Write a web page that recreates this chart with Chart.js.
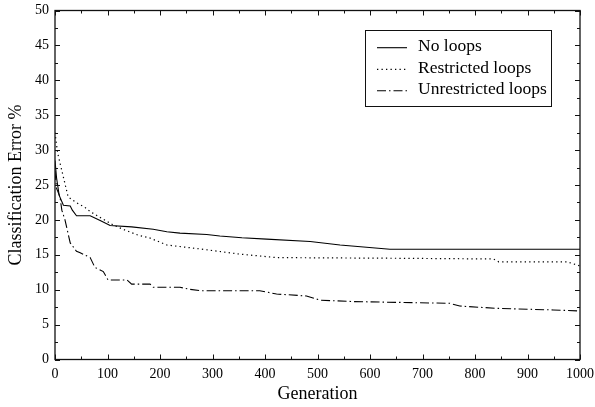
<!DOCTYPE html>
<html>
<head>
<meta charset="utf-8">
<script src="https://cdn.jsdelivr.net/npm/chart.js@4.4.1/dist/chart.umd.min.js"></script>
<style>
html,body{margin:0;padding:0;background:#fff;}
canvas{display:block;}
</style>
</head>
<body>
<canvas id="c" width="595" height="407"></canvas>
<script>
// ---- data ----
const noLoopsGen = [0,3,8,16,29,33,41,67,86,105,146,187,213,238,289,314,356,403,486,543,638,1000];
const noLoopsErr = [28.5,26,23.5,22.1,22.0,21.4,20.6,20.6,19.9,19.2,19.0,18.65,18.3,18.1,17.9,17.7,17.45,17.25,16.9,16.4,15.8,15.8];

const restrictedGen = [0,5,10,18,25,40,57,67,85,110,133,159,181,213,270,352,422,657,835,845,975,1000];
const restrictedErr = [32.5,29.6,28.0,25.5,23.3,22.5,21.8,21.2,20.4,19.3,18.55,17.8,17.4,16.4,15.9,15.1,14.6,14.5,14.4,14.0,14.0,13.4];

const unrestrictedGen = [0,3,9.5,13,19,29,41,48,67,76,92,101,137,146,181,187,238,257,276,390,422,479,505,568,752,771,841,949,1000];
const unrestrictedErr = [27,24.5,23.3,21.4,20.0,16.7,15.5,15.3,14.6,13.2,12.6,11.4,11.4,10.8,10.8,10.35,10.35,10.05,9.86,9.86,9.38,9.1,8.5,8.3,8.05,7.66,7.33,7.1,6.95];

const seriesLabels = ["No loops","Restricted loops","Unrestricted loops"];
const xRange = [0,1000], xMajor = 100, xMinor = 50;
const yRange = [0,50], yMajor = 5, yMinor = 2.5;
const xTitle = "Generation";
const yTitle = "Classification Error %";

const FONT = "'Liberation Serif', 'Times New Roman', serif";
const toPts = (g, v) => g.map((x, i) => ({x: x, y: v[i]}));

const frameAndLegend = {
  id: 'frameAndLegend',
  afterDatasetsDraw(chart) {
    const ctx = chart.ctx;
    const {left, right, top, bottom} = chart.chartArea;
    const xs = chart.scales.x, ys = chart.scales.y;
    ctx.save();
    ctx.strokeStyle = '#111';
    ctx.lineWidth = 1;
    ctx.setLineDash([]);
    ctx.beginPath();
    for (let g = xRange[0]; g <= xRange[1]; g += xMinor) {
      const px = Math.round(xs.getPixelForValue(g)) + 0.5;
      const len = (g % xMajor === 0) ? 5 : 3;
      ctx.moveTo(px, bottom); ctx.lineTo(px, bottom - len);
      ctx.moveTo(px, top); ctx.lineTo(px, top + len);
    }
    for (let v = yRange[0]; v <= yRange[1]; v += yMinor) {
      const py = Math.round(ys.getPixelForValue(v)) + 0.5;
      const len = (v % yMajor === 0) ? 5 : 3;
      ctx.moveTo(left, py); ctx.lineTo(left + len, py);
      ctx.moveTo(right, py); ctx.lineTo(right - len, py);
    }
    ctx.stroke();
    ctx.lineWidth = 1.3;
    ctx.strokeRect(left, top, right - left, bottom - top);

    // legend box
    ctx.lineWidth = 1;
    ctx.strokeStyle = '#111';
    ctx.strokeRect(365.5, 30.5, 186, 76);
    const rowsLine = [47.7, 69.3, 90.7];
    const rowsText = [51, 72.5, 94];
    ctx.font = "17.5px " + FONT;
    ctx.fillStyle = '#000';
    ctx.textBaseline = 'alphabetic';
    ctx.textAlign = 'left';
    chart.data.datasets.forEach((ds, i) => {
      ctx.beginPath();
      ctx.setLineDash(ds.borderDash || []);
      ctx.lineWidth = ds.borderWidth;
      ctx.strokeStyle = ds.borderColor;
      ctx.moveTo(377, rowsLine[i]);
      ctx.lineTo(407, rowsLine[i]);
      ctx.stroke();
      ctx.setLineDash([]);
      ctx.fillText(ds.label, 418, rowsText[i]);
    });
    ctx.restore();
  }
};

function noOverhang(s) {
  s.paddingTop = 0; s.paddingBottom = 0; s.paddingLeft = 0; s.paddingRight = 0;
}

new Chart(document.getElementById('c'), {
  type: 'line',
  data: {
    datasets: [
      {label: seriesLabels[0], data: toPts(noLoopsGen, noLoopsErr), borderColor: '#000', borderWidth: 1.1, borderDash: [], pointRadius: 0, tension: 0, fill: false},
      {label: seriesLabels[1], data: toPts(restrictedGen, restrictedErr), borderColor: '#000', borderWidth: 1.2, borderDash: [1.3, 3.2], pointRadius: 0, tension: 0, fill: false},
      {label: seriesLabels[2], data: toPts(unrestrictedGen, unrestrictedErr), borderColor: '#000', borderWidth: 1.1, borderDash: [9, 3, 1.5, 3], pointRadius: 0, tension: 0, fill: false}
    ]
  },
  options: {
    responsive: false,
    animation: false,
    events: [],
    layout: {padding: {top: 10.5, right: 15, left: 0, bottom: 0}},
    plugins: {legend: {display: false}, tooltip: {enabled: false}},
    scales: {
      x: {
        type: 'linear', min: xRange[0], max: xRange[1],
        grid: {display: false, drawTicks: false},
        border: {display: false},
        ticks: {stepSize: xMajor, color: '#000', font: {family: FONT, size: 14}, padding: 6, maxRotation: 0, autoSkip: false,
                callback: v => String(v)},
        title: {display: true, text: xTitle, color: '#000', font: {family: FONT, size: 18}, padding: {top: 0, bottom: 1.5}},
        afterFit(s) { s.height = 47.5; noOverhang(s); }
      },
      y: {
        type: 'linear', min: yRange[0], max: yRange[1],
        grid: {display: false, drawTicks: false},
        border: {display: false},
        ticks: {stepSize: yMajor, color: '#000', font: {family: FONT, size: 14}, padding: 6, autoSkip: false,
                callback: v => String(v)},
        title: {display: true, text: yTitle, color: '#000', font: {family: FONT, size: 18}, padding: {top: 5, bottom: 0}},
        afterFit(s) { s.width = 55; noOverhang(s); }
      }
    }
  },
  plugins: [frameAndLegend]
});
</script>
</body>
</html>
